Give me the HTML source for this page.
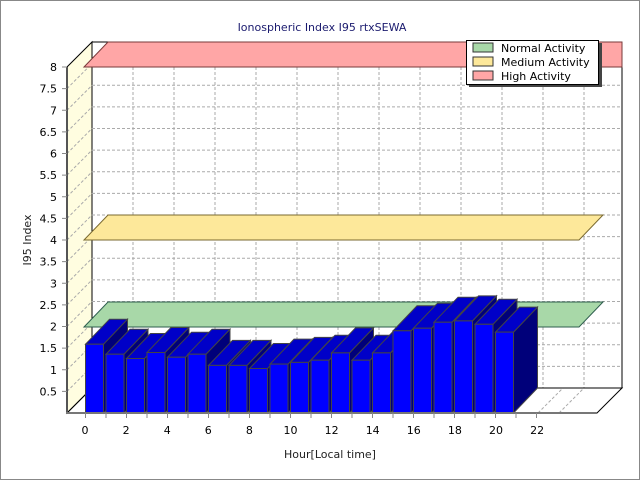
<!DOCTYPE html>
<html><head><style>body{margin:0;background:#fff}svg{display:block}text{font-family:"DejaVu Sans","Liberation Sans",sans-serif;font-size:11px}</style></head><body>
<svg width="640" height="480" xmlns="http://www.w3.org/2000/svg">
<rect x="0.5" y="0.5" width="639" height="479" fill="#fff" stroke="#888"/>
<text x="322" y="31" text-anchor="middle" fill="#1a1a6e">Ionospheric Index I95 rtxSEWA</text>
<polygon points="67,67 92,42 92,388 67,413" fill="#fffde0" stroke="#000"/>
<rect x="92" y="42" width="530" height="346" fill="#fff" stroke="#000"/>
<g stroke="#aaa" stroke-dasharray="3,2">
<line x1="92" y1="366.4" x2="622" y2="366.4"/><line x1="92" y1="344.8" x2="622" y2="344.8"/><line x1="92" y1="323.1" x2="622" y2="323.1"/><line x1="92" y1="301.5" x2="622" y2="301.5"/><line x1="92" y1="279.9" x2="622" y2="279.9"/><line x1="92" y1="258.3" x2="622" y2="258.3"/><line x1="92" y1="236.6" x2="622" y2="236.6"/><line x1="92" y1="215" x2="622" y2="215"/><line x1="92" y1="193.4" x2="622" y2="193.4"/><line x1="92" y1="171.8" x2="622" y2="171.8"/><line x1="92" y1="150.1" x2="622" y2="150.1"/><line x1="92" y1="128.5" x2="622" y2="128.5"/><line x1="92" y1="106.9" x2="622" y2="106.9"/><line x1="92" y1="85.3" x2="622" y2="85.3"/><line x1="92" y1="63.6" x2="622" y2="63.6"/>
<line x1="133" y1="42" x2="133" y2="388"/><line x1="174" y1="42" x2="174" y2="388"/><line x1="215" y1="42" x2="215" y2="388"/><line x1="256" y1="42" x2="256" y2="388"/><line x1="297" y1="42" x2="297" y2="388"/><line x1="338" y1="42" x2="338" y2="388"/><line x1="379" y1="42" x2="379" y2="388"/><line x1="420" y1="42" x2="420" y2="388"/><line x1="461" y1="42" x2="461" y2="388"/><line x1="502" y1="42" x2="502" y2="388"/><line x1="543" y1="42" x2="543" y2="388"/><line x1="584" y1="42" x2="584" y2="388"/>
<line x1="67" y1="391.4" x2="92" y2="366.4"/><line x1="67" y1="369.8" x2="92" y2="344.8"/><line x1="67" y1="348.1" x2="92" y2="323.1"/><line x1="67" y1="326.5" x2="92" y2="301.5"/><line x1="67" y1="304.9" x2="92" y2="279.9"/><line x1="67" y1="283.3" x2="92" y2="258.3"/><line x1="67" y1="261.6" x2="92" y2="236.6"/><line x1="67" y1="240" x2="92" y2="215"/><line x1="67" y1="218.4" x2="92" y2="193.4"/><line x1="67" y1="196.8" x2="92" y2="171.8"/><line x1="67" y1="175.1" x2="92" y2="150.1"/><line x1="67" y1="153.5" x2="92" y2="128.5"/><line x1="67" y1="131.9" x2="92" y2="106.9"/><line x1="67" y1="110.3" x2="92" y2="85.3"/><line x1="67" y1="88.6" x2="92" y2="63.6"/>
<line x1="538" y1="413" x2="563" y2="388"/><line x1="559" y1="413" x2="584" y2="388"/>
</g>
<polygon points="67,413 92,388 622,388 597,413" fill="none" stroke="#000"/>
<polygon points="84,327 108,302 603,302 579,327" fill="#a8d8a8" stroke="#2e5e4e"/>
<polygon points="84,240 108,215 603,215 579,240" fill="#fde89a" stroke="#7a6a30"/>
<polygon points="84,67 108,42 622,42 622,67" fill="#ffa6a6" stroke="#7a3a3a"/>
<g stroke="#444">
<g transform="translate(85.5,0)"><polygon points="18,344.2 42,319.2 42,388 18,413" fill="#00007a"/><polygon points="0,344.2 24,319.2 42,319.2 18,344.2" fill="#0000c8"/><rect x="0" y="344.2" width="18" height="68.8" fill="#00f"/></g>
<g transform="translate(106,0)"><polygon points="18,354.2 42,329.2 42,388 18,413" fill="#00007a"/><polygon points="0,354.2 24,329.2 42,329.2 18,354.2" fill="#0000c8"/><rect x="0" y="354.2" width="18" height="58.8" fill="#00f"/></g>
<g transform="translate(126.5,0)"><polygon points="18,358.5 42,333.5 42,388 18,413" fill="#00007a"/><polygon points="0,358.5 24,333.5 42,333.5 18,358.5" fill="#0000c8"/><rect x="0" y="358.5" width="18" height="54.5" fill="#00f"/></g>
<g transform="translate(147,0)"><polygon points="18,352.5 42,327.5 42,388 18,413" fill="#00007a"/><polygon points="0,352.5 24,327.5 42,327.5 18,352.5" fill="#0000c8"/><rect x="0" y="352.5" width="18" height="60.5" fill="#00f"/></g>
<g transform="translate(167.5,0)"><polygon points="18,357.2 42,332.2 42,388 18,413" fill="#00007a"/><polygon points="0,357.2 24,332.2 42,332.2 18,357.2" fill="#0000c8"/><rect x="0" y="357.2" width="18" height="55.8" fill="#00f"/></g>
<g transform="translate(188,0)"><polygon points="18,354.2 42,329.2 42,388 18,413" fill="#00007a"/><polygon points="0,354.2 24,329.2 42,329.2 18,354.2" fill="#0000c8"/><rect x="0" y="354.2" width="18" height="58.8" fill="#00f"/></g>
<g transform="translate(208.5,0)"><polygon points="18,365.4 42,340.4 42,388 18,413" fill="#00007a"/><polygon points="0,365.4 24,340.4 42,340.4 18,365.4" fill="#0000c8"/><rect x="0" y="365.4" width="18" height="47.6" fill="#00f"/></g>
<g transform="translate(229,0)"><polygon points="18,365.4 42,340.4 42,388 18,413" fill="#00007a"/><polygon points="0,365.4 24,340.4 42,340.4 18,365.4" fill="#0000c8"/><rect x="0" y="365.4" width="18" height="47.6" fill="#00f"/></g>
<g transform="translate(249.5,0)"><polygon points="18,368.5 42,343.5 42,388 18,413" fill="#00007a"/><polygon points="0,368.5 24,343.5 42,343.5 18,368.5" fill="#0000c8"/><rect x="0" y="368.5" width="18" height="44.5" fill="#00f"/></g>
<g transform="translate(270,0)"><polygon points="18,364.1 42,339.1 42,388 18,413" fill="#00007a"/><polygon points="0,364.1 24,339.1 42,339.1 18,364.1" fill="#0000c8"/><rect x="0" y="364.1" width="18" height="48.9" fill="#00f"/></g>
<g transform="translate(290.5,0)"><polygon points="18,362.4 42,337.4 42,388 18,413" fill="#00007a"/><polygon points="0,362.4 24,337.4 42,337.4 18,362.4" fill="#0000c8"/><rect x="0" y="362.4" width="18" height="50.6" fill="#00f"/></g>
<g transform="translate(311,0)"><polygon points="18,360.2 42,335.2 42,388 18,413" fill="#00007a"/><polygon points="0,360.2 24,335.2 42,335.2 18,360.2" fill="#0000c8"/><rect x="0" y="360.2" width="18" height="52.8" fill="#00f"/></g>
<g transform="translate(331.5,0)"><polygon points="18,352.9 42,327.9 42,388 18,413" fill="#00007a"/><polygon points="0,352.9 24,327.9 42,327.9 18,352.9" fill="#0000c8"/><rect x="0" y="352.9" width="18" height="60.1" fill="#00f"/></g>
<g transform="translate(352,0)"><polygon points="18,360.2 42,335.2 42,388 18,413" fill="#00007a"/><polygon points="0,360.2 24,335.2 42,335.2 18,360.2" fill="#0000c8"/><rect x="0" y="360.2" width="18" height="52.8" fill="#00f"/></g>
<g transform="translate(372.5,0)"><polygon points="18,352.9 42,327.9 42,388 18,413" fill="#00007a"/><polygon points="0,352.9 24,327.9 42,327.9 18,352.9" fill="#0000c8"/><rect x="0" y="352.9" width="18" height="60.1" fill="#00f"/></g>
<g transform="translate(393,0)"><polygon points="18,330.8 42,305.8 42,388 18,413" fill="#00007a"/><polygon points="0,330.8 24,305.8 42,305.8 18,330.8" fill="#0000c8"/><rect x="0" y="330.8" width="18" height="82.2" fill="#00f"/></g>
<g transform="translate(413.5,0)"><polygon points="18,328.2 42,303.2 42,388 18,413" fill="#00007a"/><polygon points="0,328.2 24,303.2 42,303.2 18,328.2" fill="#0000c8"/><rect x="0" y="328.2" width="18" height="84.8" fill="#00f"/></g>
<g transform="translate(434,0)"><polygon points="18,322.2 42,297.2 42,388 18,413" fill="#00007a"/><polygon points="0,322.2 24,297.2 42,297.2 18,322.2" fill="#0000c8"/><rect x="0" y="322.2" width="18" height="90.8" fill="#00f"/></g>
<g transform="translate(454.5,0)"><polygon points="18,320.9 42,295.9 42,388 18,413" fill="#00007a"/><polygon points="0,320.9 24,295.9 42,295.9 18,320.9" fill="#0000c8"/><rect x="0" y="320.9" width="18" height="92.1" fill="#00f"/></g>
<g transform="translate(475,0)"><polygon points="18,324.3 42,299.3 42,388 18,413" fill="#00007a"/><polygon points="0,324.3 24,299.3 42,299.3 18,324.3" fill="#0000c8"/><rect x="0" y="324.3" width="18" height="88.7" fill="#00f"/></g>
<g transform="translate(495.5,0)"><polygon points="18,332.1 42,307.1 42,388 18,413" fill="#00007a"/><polygon points="0,332.1 24,307.1 42,307.1 18,332.1" fill="#0000c8"/><rect x="0" y="332.1" width="18" height="80.9" fill="#00f"/></g>
</g>
<line x1="67" y1="67" x2="67" y2="414" stroke="#555" stroke-width="2"/>
<line x1="66" y1="413" x2="597" y2="413" stroke="#777" stroke-width="2"/>
<line x1="85" y1="415.5" x2="540" y2="415.5" stroke="#888" stroke-width="5" stroke-dasharray="1,19.5"/>
<line x1="64.5" y1="391.9" x2="64.5" y2="66" stroke="#888" stroke-width="5" stroke-dasharray="1,20.625"/>
<g fill="#000" text-anchor="end">
<text x="57" y="395.4">0.5</text><text x="57" y="373.8">1</text><text x="57" y="352.1">1.5</text><text x="57" y="330.5">2</text><text x="57" y="308.9">2.5</text><text x="57" y="287.3">3</text><text x="57" y="265.6">3.5</text><text x="57" y="244">4</text><text x="57" y="222.4">4.5</text><text x="57" y="200.8">5</text><text x="57" y="179.1">5.5</text><text x="57" y="157.5">6</text><text x="57" y="135.9">6.5</text><text x="57" y="114.3">7</text><text x="57" y="92.6">7.5</text><text x="57" y="71">8</text>
</g>
<g fill="#000" text-anchor="middle">
<text x="85" y="434">0</text><text x="126.1" y="434">2</text><text x="167.2" y="434">4</text><text x="208.3" y="434">6</text><text x="249.4" y="434">8</text><text x="290.5" y="434">10</text><text x="331.6" y="434">12</text><text x="372.7" y="434">14</text><text x="413.8" y="434">16</text><text x="454.9" y="434">18</text><text x="496" y="434">20</text><text x="537.1" y="434">22</text>
</g>
<text x="330" y="458" text-anchor="middle" fill="#222">Hour[Local time]</text>
<text transform="translate(31,240) rotate(-90)" text-anchor="middle" fill="#222">I95 Index</text>
<rect x="469" y="43" width="133" height="44" fill="#444"/>
<rect x="466.5" y="40.5" width="132" height="44" fill="#fff" stroke="#000"/>
<rect x="473" y="43" width="20" height="9" fill="#a8d8a8" stroke="#333"/>
<rect x="473" y="57" width="20" height="9" fill="#fde89a" stroke="#333"/>
<rect x="473" y="71" width="20" height="9" fill="#ffa6a6" stroke="#333"/>
<text x="501" y="52" fill="#000">Normal Activity</text>
<text x="501" y="66" fill="#000">Medium Activity</text>
<text x="501" y="80" fill="#000">High Activity</text>
</svg>
</body></html>
